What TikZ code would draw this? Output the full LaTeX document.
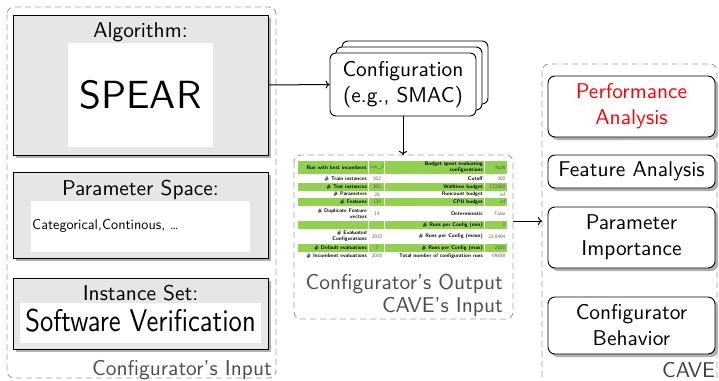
\documentclass[tikz,border=0pt]{standalone}
\usepackage{fontspec}
\setsansfont{lmsans10-regular}[Extension=.otf, BoldFont=lmsans10-bold]
\usetikzlibrary{shadows,arrows.meta}
\definecolor{panelgray}{HTML}{E6E6E6}
\definecolor{shadowgray}{HTML}{B0B0B0}
\definecolor{rowgreen}{HTML}{92D050}
\definecolor{valgray}{HTML}{505050}
\definecolor{dashgray}{HTML}{A0A0A0}
\definecolor{notegray}{HTML}{4D4D4D}

% one table row: name, y, label, value, label, value
\newcommand\tablerow[6]{%
  \node[tlabel] (#1a) at (367,#2) {#3};
  \node[tval] (#1b) at (377,#2) {#4};
  \node[tlabel] (#1c) at (483,#2) {#5};
  \node[tval, anchor=east] (#1d) at (505.5,#2) {#6};
}

\begin{document}
\begin{tikzpicture}[x=1pt,y=-1pt,
  every node/.style={font=\sffamily},
  big/.style={font=\sffamily\fontsize{21.4}{26}\selectfont},
  group/.style={draw=dashgray, line width=0.9pt, dash pattern=on 6pt off 4pt, rounded corners=7pt},
  panel/.style={draw=black, fill=panelgray, line width=0.9pt, inner sep=0pt,
    drop shadow={shadow xshift=3pt, shadow yshift=-3pt, fill=shadowgray, opacity=1}},
  inset/.style={fill=white, inner sep=0pt},
  cfgbox/.style={draw=black, fill=white, line width=0.9pt, rounded corners=6pt, inner sep=0pt,
    minimum width=146pt, minimum height=63pt},
  cavebox/.style={draw=black, fill=white, line width=0.9pt, rounded corners=7pt, inner sep=0pt,
    minimum width=167pt, align=center, big,
    drop shadow={shadow xshift=3pt, shadow yshift=-3pt, fill=shadowgray, opacity=1}},
  note/.style={big, text=notegray, inner sep=0pt},
  link/.style={line width=1pt, -{To[length=4pt,width=8pt]}},
  tlabel/.style={font=\sffamily\bfseries\fontsize{5.2}{6}\selectfont, inner sep=0pt, align=right, anchor=east},
  tval/.style={font=\sffamily\fontsize{5.2}{6}\selectfont, text=valgray, inner sep=0pt},
]
\useasboundingbox (0,0) rectangle (719,380);
\clip (0,0) rectangle (719,380);

% ---------- configurator's input ----------
\draw[group] (7,7) rectangle (276,378);

\node[panel, minimum width=255pt, minimum height=140pt] (alg) at (140.5,85) {};
\node[big, anchor=base, inner sep=0pt] (algT) at (140.5,37) {Algorithm:};
\node[inset, minimum width=145pt, minimum height=104pt] (algI) at (140.5,95)
  {\fontsize{39.3}{44}\selectfont SPEAR};

\node[panel, minimum width=255pt, minimum height=86pt] (par) at (140.5,215) {};
\node[big, anchor=base, inner sep=0pt] (parT) at (140.5,195) {Parameter Space:};
\node[inset, minimum width=219pt, minimum height=51pt] (parI) at (140.5,226.5) {};
\node[anchor=base west, inner sep=0pt, font=\sffamily\fontsize{14.2}{17}\selectfont] (parV)
  at (32,229) {Categorical,Continous, \dots};

\node[panel, minimum width=255pt, minimum height=71pt] (ins) at (140.5,313.5) {};
\node[big, anchor=base, inner sep=0pt] (insT) at (140.5,300) {Instance Set:};
\node[inset, minimum width=241pt, minimum height=40pt] (insI) at (140.5,323) {};
\node[anchor=base, inner sep=0pt] (insV) at (140.5,331)
  {\scalebox{1}[1.18]{\fontsize{26.6}{30}\selectfont Software Verification}};

\node[note, anchor=base east] (inLbl) at (272,375) {Configurator's Input};

% ---------- configurator ----------
\node[cfgbox] (cfgC) at (415,72.5) {};
\node[cfgbox] (cfgB) at (409,78.5) {};
\node[cfgbox, big, align=center] (cfg) at (403,84.5) {Configuration\\(e.g., SMAC)};

% ---------- configurator's output ----------
\draw[group] (294,155) rectangle (513,319);
\coordinate (midE) at (513,221);
\coordinate (midN) at (403,155);

% table rows
\foreach \t/\b in {161/174, 183/191, 198/206, 221/229, 244/252}
  \fill[rowgreen] (298,\t) rectangle (507,\b);
\foreach \x in {368.5, 384.5, 484.5}
  \draw[white, line width=1pt] (\x,161) -- (\x,260);

\tablerow{r1}{167.5}{Run with best incumbent}{run\_3}{Budget spent evaluating\\configurations}{NaN}
\tablerow{r2}{179}{\# Train instances}{302}{Cutoff}{300}
\tablerow{r3}{187}{\# Test instances}{302}{Walltime budget}{172800}
\tablerow{r4}{194.5}{\# Parameters}{26}{Runcount budget}{inf}
\tablerow{r5}{202}{\# Features}{138}{CPU budget}{inf}
\tablerow{r6}{214}{\# Duplicate Feature\\vectors}{14}{Deterministic}{False}
\node[tlabel] (r7c) at (483,225) {\# Runs per Config (min)};
\node[tval, anchor=east] (r7d) at (505.5,225) {0};
\tablerow{r8}{236.5}{\# Evaluated\\Configurations}{2922}{\# Runs per Config (mean)}{23.8494}
\tablerow{r9}{248}{\# Default evaluations}{7}{\# Runs per Config (max)}{2000}
\tablerow{r10}{256}{\# Incumbent evaluations}{2000}{Total number of configuration runs}{69688}

\node[note, anchor=base east] (outLbl1) at (503,289) {Configurator's Output};
\node[note, anchor=base east] (outLbl2) at (503,312) {CAVE's Input};

% ---------- CAVE ----------
\draw[group] (542,64) rectangle (717,400);
\coordinate (caveW) at (542,221);

\node[cavebox, minimum height=61pt, text=red] (perf) at (631.5,106.5) {Performance\\Analysis};
\node[cavebox, minimum height=33pt] (feat) at (631.5,171.5) {Feature Analysis};
\node[cavebox, minimum height=61pt] (pimp) at (631.5,237.5) {Parameter\\Importance};
\node[cavebox, minimum height=57pt] (cbeh) at (631.5,325.5) {Configurator\\Behavior};

\node[note, anchor=base east, text=black!75] (caveLbl) at (715,377) {CAVE};

% ---------- connectors ----------
\draw[link] (alg.east) -- (cfg.west);
\draw[link] (cfg.south) -- (midN);
\draw[link] (midE) -- (caveW);
\end{tikzpicture}
\end{document}
